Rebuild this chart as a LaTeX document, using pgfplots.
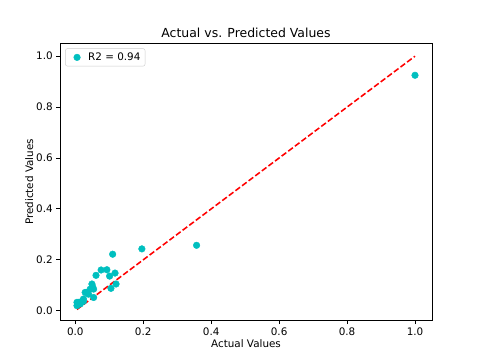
\documentclass[border=0pt]{standalone}
\usepackage{fontspec}
\setmainfont{DejaVu Sans}
\usepackage{pgfplots}
\pgfplotsset{compat=1.18}
\definecolor{mplc}{rgb}{0,0.75,0.75}
% scatter legend symbol: one mark centred in a wider slot
\pgfplotsset{scatterleg/.style={legend image code/.code={%
    \path (0cm,0cm) (0.6cm,0cm);
    \draw[mark repeat=2,mark phase=2,##1] plot coordinates {(0cm,0cm) (0.3cm,0cm) (0.6cm,0cm)};}}}
\begin{document}
\fontsize{10}{12}\selectfont
\begin{tikzpicture}
\begin{axis}[
    scale only axis,
    width=4.96in, height=3.696in,
    xmin=-0.045, xmax=1.05, ymin=-0.038, ymax=1.051,
    xtick={0,0.2,0.4,0.6,0.8,1.0},
    ytick={0,0.2,0.4,0.6,0.8,1.0},
    /pgf/number format/assume math mode=true,
    /pgf/number format/.cd, fixed, fixed zerofill, precision=1, /pgfplots/.cd,
    tick align=outside, major tick length=3.5pt,
    tick style={black, line width=0.8pt},
    axis line style={line width=0.8pt},
    xtick pos=bottom, ytick pos=left,
    xlabel={Actual Values}, ylabel={Predicted Values},
    xlabel shift=-3pt, ylabel shift=-4pt,
    title={\fontsize{12}{14}\selectfont Actual vs. Predicted Values},
    title style={yshift=-4pt},
    legend style={at={(0,1)}, anchor=north west, xshift=5pt, yshift=-5pt,
        draw=black!20, rounded corners=2pt, font=\fontsize{10}{12}\selectfont,
        inner xsep=2.5pt, inner ysep=2pt},
    legend cell align=left,
]
\addplot[only marks, mark=*, mark size=3.2pt, color=mplc, scatterleg] coordinates {
(0.357,0.257) (0.196,0.243) (0.110,0.222) (0.117,0.148) (0.120,0.105)
(0.105,0.088) (0.101,0.136) (0.093,0.161) (0.076,0.160) (0.061,0.139)
(0.049,0.105) (0.051,0.095) (0.054,0.085) (0.044,0.085) (0.054,0.052)
(0.029,0.072) (0.034,0.072) (0.039,0.065) (0.024,0.046) (0.020,0.037)
(0.010,0.033) (0.005,0.033) (0.005,0.020) (0.015,0.027) (0.024,0.037)
(1.000,0.925)
};
\addlegendentry{R2 = 0.94}
\addplot[red, line width=1.5pt, dash pattern=on 5.55pt off 2.4pt, forget plot] coordinates {(0.005,0.005) (1,1)};
\end{axis}
\pgfresetboundingbox
\path ([xshift=-0.8in,yshift=-0.528in]current axis.south west) rectangle ([xshift=0.64in,yshift=0.576in]current axis.north east);
\end{tikzpicture}
\end{document}
